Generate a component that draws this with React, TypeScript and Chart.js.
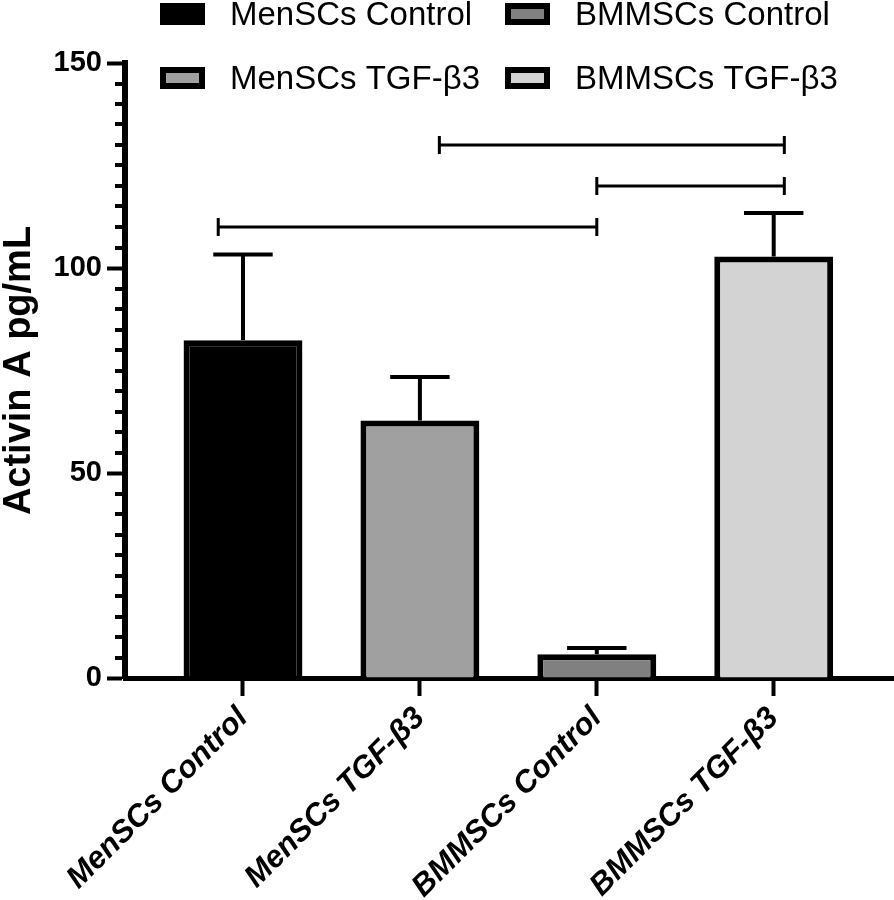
import React, { useEffect, useRef } from 'react';
import { Chart, registerables } from 'chart.js';

Chart.register(...registerables);

// ---- data ----
const categories = ['MenSCs Control', 'MenSCs TGF-β3', 'BMMSCs Control', 'BMMSCs TGF-β3'];
const means = [82.4, 62.8, 5.8, 102.8];
const sems = [20.9, 10.6, 1.5, 10.6];
const fillColors = ['#000000', '#a0a0a0', '#808080', '#d3d3d3'];
const yMajorTicks = [0, 50, 100, 150];
// significance brackets: x positions in category units, y in data units
const bracketFrom = [-0.14, 2, 1.11];
const bracketTo = [2, 3.06, 3.06];
const bracketY = [110, 120, 130];

const FONT = '"Liberation Sans", Arial, sans-serif';

const errorBarPlugin = {
  id: 'errorBars',
  afterDatasetsDraw(chart: any) {
    const ctx = chart.ctx;
    const y = chart.scales.y;
    const x = chart.scales.x;
    ctx.save();
    ctx.strokeStyle = '#000';
    ctx.lineWidth = 4;
    chart.data.datasets.forEach((_ds: any, i: number) => {
      const bar = chart.getDatasetMeta(i).data[0];
      if (!bar) return;
      const cx = bar.x;
      const w = bar.width;
      const base = y.getPixelForValue(means[i]);
      const top = y.getPixelForValue(means[i] + sems[i]);
      ctx.beginPath();
      ctx.moveTo(cx, base);
      ctx.lineTo(cx, top);
      ctx.stroke();
      ctx.beginPath();
      ctx.moveTo(cx - w / 4, top);
      ctx.lineTo(cx + w / 4, top);
      ctx.stroke();
    });
    // brackets
    ctx.lineWidth = 3;
    bracketY.forEach((v, k) => {
      const py = y.getPixelForValue(v);
      const x1 = x.getPixelForValue(bracketFrom[k]);
      const x2 = x.getPixelForValue(bracketTo[k]);
      ctx.beginPath();
      ctx.moveTo(x1, py);
      ctx.lineTo(x2, py);
      ctx.moveTo(x1, py - 9);
      ctx.lineTo(x1, py + 9);
      ctx.moveTo(x2, py - 9);
      ctx.lineTo(x2, py + 9);
      ctx.stroke();
    });
    ctx.restore();
  },
};

const minorTickPlugin = {
  id: 'minorTicks',
  afterDraw(chart: any) {
    const ctx = chart.ctx;
    const y = chart.scales.y;
    const right = chart.chartArea.left;
    ctx.save();
    ctx.strokeStyle = '#000';
    ctx.lineWidth = 4;
    y.ticks.forEach((t: any) => {
      if (yMajorTicks.includes(t.value)) return;
      const py = Math.round(y.getPixelForValue(t.value));
      ctx.beginPath();
      ctx.moveTo(right - 10, py);
      ctx.lineTo(right - 2, py);
      ctx.stroke();
    });
    ctx.restore();
  },
};

const legendPlugin = {
  id: 'customLegend',
  afterDraw(chart: any) {
    const ctx = chart.ctx;
    const colX = [160, 505];
    const rowY = [3, 67];
    ctx.save();
    chart.data.datasets.forEach((ds: any, i: number) => {
      const bx = colX[Math.floor(i / 2)];
      const by = rowY[i % 2];
      ctx.fillStyle = '#000';
      ctx.fillRect(bx, by, 45, 22);
      ctx.fillStyle = ds.backgroundColor;
      ctx.fillRect(bx + 6, by + 6, 33, 10);
      ctx.fillStyle = '#000';
      ctx.font = `33px ${FONT}`;
      ctx.textBaseline = 'alphabetic';
      ctx.textAlign = 'left';
      ctx.fillText(ds.label, bx + 70, by + 22);
    });
    ctx.restore();
  },
};

export default function App() {
  const ref = useRef<HTMLCanvasElement | null>(null);
  useEffect(() => {
    if (!ref.current) return;
    Chart.defaults.font.family = FONT;
    Chart.defaults.color = '#000';
    const chart = new Chart(ref.current, {
      type: 'bar',
      data: {
        datasets: categories.map((c, i) => ({
          label: c,
          data: [{ x: i, y: means[i] }],
          backgroundColor: fillColors[i],
          borderColor: '#000',
          borderWidth: 6,
          grouped: false,
          categoryPercentage: 1,
          barPercentage: 0.672,
        })) as any,
      },
      options: {
        responsive: false,
        animation: false,
        devicePixelRatio: 1,
        layout: { padding: { top: 63, left: 0, right: 0, bottom: 0 } },
        plugins: { legend: { display: false }, tooltip: { enabled: false } },
        scales: {
          x: {
            type: 'linear',
            min: -0.667,
            max: 3.68,
            offset: false,
            afterBuildTicks: (scale: any) => {
              scale.ticks = categories.map((_c, i) => ({ value: i }));
            },
            afterFit: (scale: any) => {
              scale.height = 222;
            },
            border: { display: true, color: '#000', width: 5 },
            grid: {
              display: true,
              offset: false,
              drawOnChartArea: false,
              drawTicks: true,
              tickLength: 18,
              tickWidth: 4,
              tickColor: '#000',
            },
            ticks: {
              autoSkip: false,
              minRotation: 45,
              maxRotation: 45,
              padding: 4,
              color: '#000',
              font: { size: 31, weight: 'bold', style: 'italic', family: FONT },
              callback: (v: any) => categories[Number(v)] ?? '',
            },
          },
          y: {
            min: 0,
            max: 150,
            afterFit: (scale: any) => {
              scale.width = 125;
            },
            border: { display: true, color: '#000', width: 6 },
            grid: {
              display: true,
              drawOnChartArea: false,
              drawTicks: true,
              tickLength: 18,
              tickWidth: 4,
              tickColor: (c: any) => (c.tick && yMajorTicks.includes(c.tick.value) ? '#000' : 'rgba(0,0,0,0)'),
            },
            ticks: {
              stepSize: 5,
              autoSkip: false,
              padding: 5,
              color: '#000',
              font: { size: 29, weight: 'bold', family: FONT },
              callback: (v: any) => (yMajorTicks.includes(Number(v)) ? String(v) : ''),
            },
            title: {
              display: true,
              text: 'Activin A pg/mL',
              color: '#000',
              padding: 0,
              font: { size: 38, weight: 'bold', family: FONT, lineHeight: 1.05 },
            },
          },
        },
      } as any,
      plugins: [errorBarPlugin, minorTickPlugin, legendPlugin],
    });
    return () => chart.destroy();
  }, []);
  return (
    <div style={{ position: 'absolute', left: 0, top: 0, width: 894, height: 900, background: '#fff' }}>
      <canvas ref={ref} width={894} height={900} />
    </div>
  );
}
